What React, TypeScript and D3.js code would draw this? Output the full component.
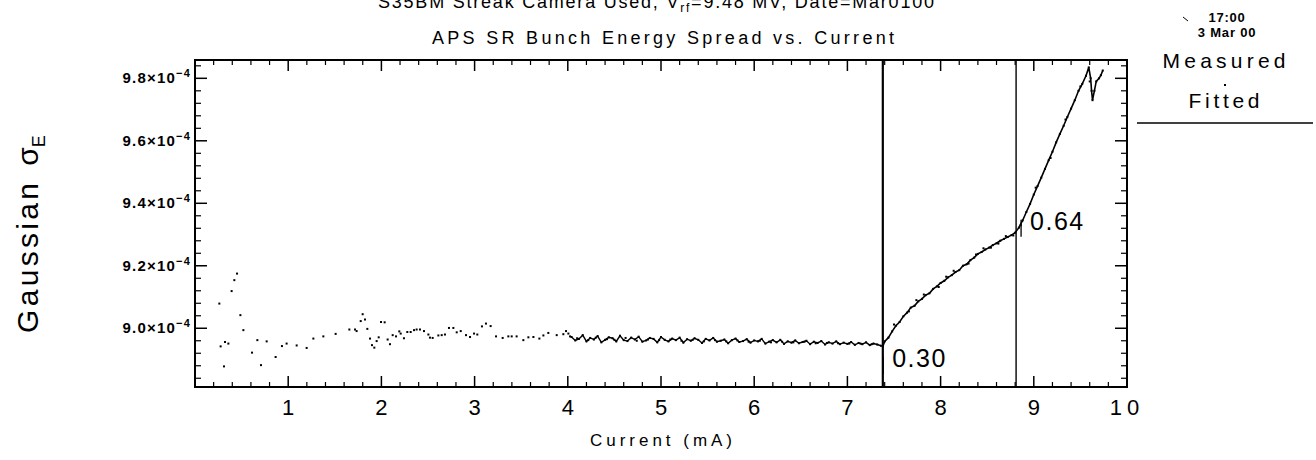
import React from "react";
import * as d3 from "d3";

// ---------- data ----------
const xTickValues = [1, 2, 3, 4, 5, 6, 7, 8, 9, 10];
const xTickLabels = ["1", "2", "3", "4", "5", "6", "7", "8", "9", "10"];
const yTickValues = [9.0, 9.2, 9.4, 9.6, 9.8];
const yTickLabels = ["9.0", "9.2", "9.4", "9.6", "9.8"];

// sparse measured points (current mA, sigma_E in 1e-4)
const sparsePoints: [number, number][] = [
  [0.261, 9.079], [0.275, 8.942], [0.311, 8.878], [0.322, 8.956], [0.358, 8.951],
  [0.393, 9.119], [0.422, 9.154], [0.451, 9.175], [0.487, 9.042], [0.519, 8.994],
  [0.612, 8.922], [0.669, 8.962], [0.708, 8.882], [0.769, 8.958], [0.865, 8.908],
  [0.933, 8.943], [0.983, 8.951], [1.091, 8.945], [1.198, 8.937], [1.27, 8.967],
  [1.377, 8.974], [1.509, 8.982], [1.656, 8.996], [1.717, 8.996], [1.734, 8.991],
  [1.778, 9.023], [1.799, 9.045], [1.824, 9.028], [1.849, 8.998], [1.878, 8.967],
  [1.899, 8.946], [1.924, 8.938], [1.949, 8.959], [1.971, 8.971], [1.996, 9.02],
  [2.035, 9.019], [2.067, 8.964], [2.092, 8.949], [2.121, 8.978], [2.157, 8.974],
  [2.192, 8.99], [2.207, 8.983], [2.242, 8.968], [2.278, 8.988], [2.314, 8.988],
  [2.35, 8.994], [2.378, 8.996], [2.414, 8.996], [2.457, 8.991], [2.504, 8.98],
  [2.521, 8.97], [2.55, 8.969], [2.611, 8.977], [2.647, 8.978], [2.682, 8.98],
  [2.725, 9.001], [2.772, 9.001], [2.808, 8.987], [2.851, 8.991], [2.908, 8.978],
  [2.951, 8.972], [2.994, 8.983], [3.029, 8.98], [3.079, 9.006], [3.122, 9.015],
  [3.172, 9.007], [3.23, 8.974], [3.301, 8.969], [3.362, 8.974], [3.398, 8.974],
  [3.451, 8.974], [3.523, 8.962], [3.577, 8.971], [3.631, 8.972], [3.695, 8.967],
  [3.738, 8.977], [3.791, 8.985], [3.881, 8.978], [3.952, 8.981], [3.981, 8.991],
  [4.006, 8.983], [4.024, 8.974],
];

// dense flat band of measured points (connected trace)
const bandPoints: [number, number][] = [
  [4.04, 8.972], [4.08, 8.961], [4.12, 8.966], [4.16, 8.978], [4.2, 8.958],
  [4.24, 8.969], [4.28, 8.964], [4.32, 8.975], [4.36, 8.955], [4.4, 8.963],
  [4.44, 8.971], [4.48, 8.968], [4.52, 8.958], [4.56, 8.976], [4.6, 8.962],
  [4.64, 8.959], [4.68, 8.97], [4.72, 8.964], [4.76, 8.973], [4.8, 8.957],
  [4.84, 8.961], [4.88, 8.969], [4.92, 8.966], [4.96, 8.955], [5.0, 8.972],
  [5.04, 8.963], [5.08, 8.958], [5.12, 8.967], [5.16, 8.962], [5.2, 8.97],
  [5.24, 8.954], [5.28, 8.965], [5.32, 8.96], [5.36, 8.968], [5.4, 8.963],
  [5.44, 8.953], [5.48, 8.966], [5.52, 8.961], [5.56, 8.969], [5.6, 8.957],
  [5.64, 8.96], [5.68, 8.964], [5.72, 8.952], [5.76, 8.962], [5.8, 8.967],
  [5.84, 8.956], [5.88, 8.959], [5.92, 8.965], [5.96, 8.954], [6.0, 8.961],
  [6.04, 8.958], [6.08, 8.966], [6.12, 8.951], [6.16, 8.957], [6.2, 8.962],
  [6.24, 8.955], [6.28, 8.963], [6.32, 8.95], [6.36, 8.958], [6.4, 8.954],
  [6.44, 8.961], [6.48, 8.952], [6.52, 8.956], [6.56, 8.96], [6.6, 8.949],
  [6.64, 8.957], [6.68, 8.953], [6.72, 8.959], [6.76, 8.948], [6.8, 8.955],
  [6.84, 8.951], [6.88, 8.958], [6.92, 8.949], [6.96, 8.954], [7.0, 8.95],
  [7.04, 8.956], [7.08, 8.947], [7.12, 8.953], [7.16, 8.949], [7.2, 8.955],
  [7.24, 8.946], [7.28, 8.951], [7.32, 8.948], [7.36, 8.944],
];

// extra scattered points inside the dense band
const bandExtraPoints: [number, number][] = [
  [4.1, 8.968], [4.22, 8.962], [4.3, 8.97], [4.42, 8.965], [4.5, 8.963],
  [4.62, 8.969], [4.74, 8.96], [4.86, 8.964], [4.98, 8.962], [5.1, 8.964],
  [5.22, 8.96], [5.34, 8.963], [5.46, 8.958], [5.58, 8.962], [5.7, 8.958],
  [5.82, 8.961], [5.94, 8.957], [6.06, 8.96], [6.18, 8.955], [6.3, 8.957],
  [6.42, 8.955], [6.54, 8.957], [6.66, 8.952], [6.78, 8.953], [6.9, 8.952],
  [7.02, 8.951], [7.14, 8.951], [7.26, 8.949],
];

// rising part of measured points
const risePoints: [number, number][] = [
  [7.38, 8.942], [7.4, 8.958], [7.44, 8.97], [7.48, 8.99], [7.52, 9.008],
  [7.56, 9.02], [7.6, 9.038], [7.64, 9.05], [7.68, 9.066], [7.72, 9.072],
  [7.76, 9.086], [7.8, 9.094], [7.84, 9.106], [7.88, 9.112], [7.92, 9.126],
  [7.96, 9.134], [8.0, 9.145], [8.04, 9.152], [8.08, 9.163], [8.12, 9.17],
  [8.16, 9.18], [8.2, 9.186], [8.24, 9.2], [8.28, 9.205], [8.32, 9.218],
  [8.36, 9.226], [8.4, 9.238], [8.44, 9.244], [8.48, 9.252], [8.52, 9.258],
  [8.56, 9.266], [8.6, 9.272], [8.64, 9.28], [8.68, 9.286], [8.72, 9.292],
  [8.76, 9.298], [8.8, 9.306], [8.84, 9.322], [8.88, 9.345], [8.92, 9.372],
  [8.96, 9.398], [9.0, 9.428], [9.04, 9.455], [9.08, 9.482], [9.12, 9.51],
  [9.16, 9.538], [9.2, 9.565], [9.24, 9.595], [9.28, 9.622], [9.32, 9.648],
  [9.36, 9.676], [9.4, 9.703], [9.44, 9.73], [9.48, 9.76], [9.52, 9.782],
  [9.56, 9.808], [9.59, 9.835], [9.61, 9.8], [9.62, 9.76], [9.63, 9.73],
  [9.65, 9.76], [9.67, 9.79], [9.7, 9.8], [9.72, 9.81], [9.74, 9.825],
];

// jitter points around the rising trace
const riseExtraPoints: [number, number][] = [
  [7.5, 9.012], [7.66, 9.054], [7.74, 9.09], [7.82, 9.108], [7.98, 9.132],
  [8.06, 9.165], [8.14, 9.184], [8.3, 9.207], [8.38, 9.236], [8.46, 9.256],
  [8.54, 9.258], [8.62, 9.271], [8.7, 9.295], [8.78, 9.297], [8.86, 9.33],
  [9.02, 9.45], [9.18, 9.545], [9.34, 9.668], [9.5, 9.774], [9.6, 9.79],
];

const breakCurrents = [7.38, 8.81];
const breakWidths = [2.2, 1.4];
const slopeLabels = ["0.30", "0.64"];
const slopeLabelAt: [number, number][] = [[7.48, 8.876], [8.96, 9.315]];

// ---------- layout ----------
const W = 1316, H = 460;
const L = 195, R = 1127, T = 60, B = 387;
const FONT = "'Liberation Sans', 'DejaVu Sans', sans-serif";

export default function App() {
  const x = d3.scaleLinear().domain([0, 10]).range([L, R]);
  const y = d3.scaleLinear().domain([8.812, 9.8586]).range([B, T]);

  const xMinor = d3.range(1, 50).map((i) => i * 0.2).filter((v) => Math.abs(v - Math.round(v)) > 1e-6);
  const yMinor = d3.range(0, 27).map((i) => 8.84 + i * 0.04).filter(
    (v) => v < 9.858 && Math.abs(v * 5 - Math.round(v * 5)) > 1e-6
  );

  const line = d3.line<[number, number]>().x((d) => x(d[0])).y((d) => y(d[1]));
  const allDots = [...sparsePoints, ...bandPoints, ...bandExtraPoints, ...risePoints, ...riseExtraPoints];

  return (
    <svg width={W} height={H} style={{ position: "absolute", left: 0, top: 0, background: "#fff" }} fontFamily={FONT}>
      <rect x={0} y={0} width={W} height={H} fill="#fff" />
      {/* titles */}
      <text x={656} y={8} textAnchor="middle" fontSize={18} textLength={556} lengthAdjust="spacing" fill="#000">
        S35BM Streak Camera Used, V<tspan fontSize={12} dy={4}>rf</tspan><tspan dy={-4}>=9.48 MV, Date=Mar0100</tspan>
      </text>
      <text x={663} y={44} textAnchor="middle" fontSize={18} textLength={462} lengthAdjust="spacing" fill="#000">
        APS SR Bunch Energy Spread vs. Current
      </text>

      {/* plot frame */}
      <rect x={L} y={T} width={R - L} height={B - T} fill="none" stroke="#000" strokeWidth={2} />

      {/* x ticks bottom and top */}
      {xTickValues.map((v) => (
        <g key={"xt" + v}>
          <line x1={x(v)} x2={x(v)} y1={B} y2={B - 11} stroke="#000" strokeWidth={1.5} />
          <line x1={x(v)} x2={x(v)} y1={T} y2={T + 11} stroke="#000" strokeWidth={1.5} />
        </g>
      ))}
      {xMinor.map((v) => (
        <g key={"xm" + v}>
          <line x1={x(v)} x2={x(v)} y1={B} y2={B - 5} stroke="#000" strokeWidth={1.2} />
          <line x1={x(v)} x2={x(v)} y1={T} y2={T + 5} stroke="#000" strokeWidth={1.2} />
        </g>
      ))}
      {xTickValues.map((v, i) => (
        <text key={"xl" + v} x={x(v)} y={415} textAnchor="middle" fontSize={22} letterSpacing={v === 10 ? 5 : 0} fill="#000">
          {xTickLabels[i]}
        </text>
      ))}
      <text x={661} y={446} textAnchor="middle" fontSize={17} textLength={142} lengthAdjust="spacing" fill="#000">
        Current (mA)
      </text>

      {/* y ticks left and right */}
      {yTickValues.map((v) => (
        <g key={"yt" + v}>
          <line x1={L} x2={L + 12} y1={y(v)} y2={y(v)} stroke="#000" strokeWidth={1.5} />
          <line x1={R} x2={R - 12} y1={y(v)} y2={y(v)} stroke="#000" strokeWidth={1.5} />
        </g>
      ))}
      {yMinor.map((v) => (
        <g key={"ym" + v}>
          <line x1={L} x2={L + 6} y1={y(v)} y2={y(v)} stroke="#000" strokeWidth={1.2} />
          <line x1={R} x2={R - 6} y1={y(v)} y2={y(v)} stroke="#000" strokeWidth={1.2} />
        </g>
      ))}
      {yTickValues.map((v, i) => (
        <text key={"yl" + v} x={191} y={y(v) + 5} textAnchor="end" fontSize={15} fontWeight="bold" letterSpacing={1.2} fill="#000">
          {yTickLabels[i]}×10<tspan fontSize={11} dy={-6}>−4</tspan>
        </text>
      ))}
      <text transform="translate(38,333) rotate(-90)" fontSize={30} fill="#000">
        <tspan textLength={150} lengthAdjust="spacing">Gaussian</tspan>
        <tspan dx={14}>σ</tspan>
        <tspan fontSize={18} dy={7}>E</tspan>
      </text>

      {/* break lines */}
      {breakCurrents.map((c, i) => (
        <line key={"br" + c} x1={x(c)} x2={x(c)} y1={T} y2={B} stroke="#000" strokeWidth={breakWidths[i]} />
      ))}
      {slopeLabels.map((s, i) => (
        <g key={"sl" + s}>
          <line x1={x(slopeLabelAt[i][0]) - 9} x2={x(slopeLabelAt[i][0]) - 9} y1={y(slopeLabelAt[i][1]) - 10} y2={y(slopeLabelAt[i][1]) + 7} stroke="#000" strokeWidth={1.3} />
          <text x={x(slopeLabelAt[i][0])} y={y(slopeLabelAt[i][1])} fontSize={25} letterSpacing={1.5} fill="#000">
            {s}
          </text>
        </g>
      ))}

      {/* measured data */}
      <path d={line(bandPoints) || ""} fill="none" stroke="#000" strokeWidth={1.4} />
      <path d={line(risePoints) || ""} fill="none" stroke="#000" strokeWidth={1.6} />
      {allDots.map((d, i) => (
        <rect key={"d" + i} x={x(d[0]) - 1} y={y(d[1]) - 1} width={2} height={2} fill="#000" />
      ))}

      {/* legend / date */}
      <line x1={1183} y1={17} x2={1188} y2={21} stroke="#000" strokeWidth={1} />
      <text x={1227} y={22} textAnchor="middle" fontSize={13} fontWeight="bold" letterSpacing={0.8} fill="#000">17:00</text>
      <text x={1227} y={37} textAnchor="middle" fontSize={13} fontWeight="bold" letterSpacing={0.8} fill="#000">3 Mar 00</text>
      <text x={1224} y={68} textAnchor="middle" fontSize={21} textLength={123} lengthAdjust="spacing" fill="#000">Measured</text>
      <rect x={1224} y={84} width={2} height={2} fill="#000" />
      <text x={1224} y={108} textAnchor="middle" fontSize={21} textLength={71} lengthAdjust="spacing" fill="#000">Fitted</text>
      <line x1={1137} x2={1313} y1={123} y2={123} stroke="#000" strokeWidth={1.5} />
    </svg>
  );
}
